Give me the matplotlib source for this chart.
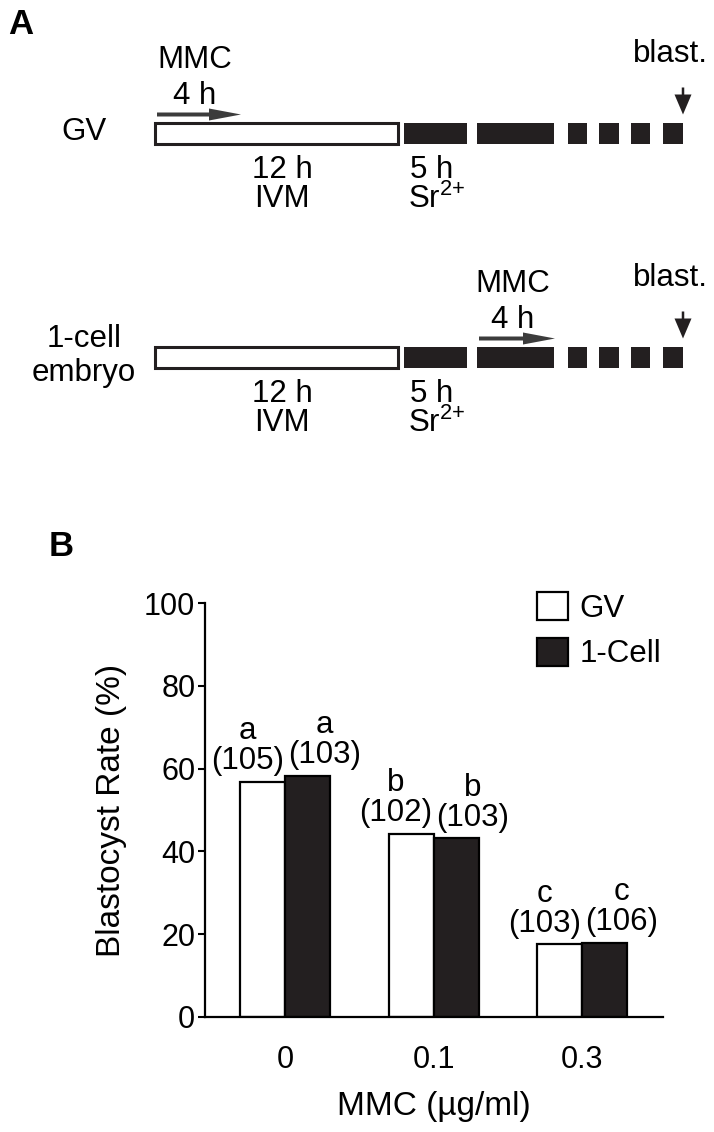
import numpy as np
import matplotlib.pyplot as plt
from matplotlib.patches import Rectangle, FancyArrow

plt.rcParams['font.family'] = ['Liberation Sans', 'DejaVu Sans']
plt.rcParams['mathtext.fontset'] = 'custom'
plt.rcParams['mathtext.rm'] = 'Liberation Sans'
plt.rcParams['mathtext.default'] = 'regular'

# ---- panel B data ----
doses = ['0', '0.1', '0.3']
gv_rate = [56.8, 44.2, 17.6]
cell_rate = [58.2, 43.2, 17.9]
gv_n = [105, 102, 103]
cell_n = [103, 103, 106]
gv_letters = ['a', 'b', 'c']
cell_letters = ['a', 'b', 'c']
yticks = [0, 20, 40, 60, 80, 100]

# ---- panel A schematic (pixel layout) ----
ivm_bar = (155, 398)
culture_blocks = [(404, 467), (477, 554), (568, 587), (599, 619), (631, 650), (663, 683)]
row_y = [133, 357]
row_names = ['GV', '1-cell\nembryo']
mmc_arrows = [(157, 241), (479, 555)]

BLACK = '#231f20'
ARROW = '#3c3c3c'
W, H = 714, 1132

fig = plt.figure(figsize=(W / 100, H / 100), dpi=100)

# schematic drawn in pixel coordinates over the whole figure
axa = fig.add_axes([0, 0, 1, 1])
axa.set_xlim(0, W)
axa.set_ylim(H, 0)
axa.axis('off')

fs_a = 22.5
bar_h = 21
for i, yc in enumerate(row_y):
    top = yc - bar_h / 2
    axa.add_patch(Rectangle((ivm_bar[0], top), ivm_bar[1] - ivm_bar[0], bar_h,
                            facecolor='white', edgecolor=BLACK, lw=2.2))
    for x0, x1 in culture_blocks:
        axa.add_patch(Rectangle((x0, top), x1 - x0, bar_h,
                                facecolor=BLACK, edgecolor='none'))
    # MMC arrow
    ax0, ax1 = mmc_arrows[i]
    ay = top - 8
    axa.add_patch(FancyArrow(ax0, ay, ax1 - ax0, 0, width=4, head_width=12,
                             head_length=32, length_includes_head=True,
                             color=ARROW, lw=0))
    axa.text((ax0 + ax1) / 2 - 4, ay - 18, '4 h', fontsize=fs_a, ha='center', va='center')
    axa.text((ax0 + ax1) / 2 - 4, ay - 55, 'MMC', fontsize=fs_a, ha='center', va='center')
    # blast arrow
    bx = culture_blocks[-1][1]
    axa.add_patch(FancyArrow(bx, top - 35, 0, 27, width=2.5, head_width=17,
                             head_length=20, length_includes_head=True,
                             color=BLACK, lw=0))
    axa.text(670, top - 68, 'blast.', fontsize=fs_a, ha='center', va='center')
    # labels
    axa.text(84, yc - 1, row_names[i], fontsize=fs_a, ha='center', va='center', linespacing=1.15)
    axa.text(282, yc + 37, '12 h', fontsize=fs_a, ha='center', va='center')
    axa.text(282, yc + 66, 'IVM', fontsize=fs_a, ha='center', va='center')
    axa.text(432, yc + 37, '5 h', fontsize=fs_a, ha='center', va='center')
    axa.text(408, yc + 66, r'Sr$^{2{+}}$', fontsize=fs_a, ha='left', va='center')

axa.text(21, 24, 'A', fontsize=25, fontweight='bold', ha='center', va='center')
axa.text(61, 546, 'B', fontsize=25, fontweight='bold', ha='center', va='center')

# ---- panel B ----
ax = fig.add_axes([205 / W, 1 - 1017 / H, (663 - 205) / W, (1017 - 603) / H])
x = np.arange(len(doses))
bw = 0.303
b1 = ax.bar(x - bw / 2, gv_rate, bw, facecolor='white', edgecolor='black', lw=1.6, label='GV')
b2 = ax.bar(x + bw / 2, cell_rate, bw, facecolor=BLACK, edgecolor='black', lw=1.6, label='1-Cell')

for i in range(len(doses)):
    ax.annotate(f'{gv_letters[i]}\n({gv_n[i]})', (x[i] - bw / 2, gv_rate[i]),
                xytext=(-11, 4), textcoords='offset points', ha='center', va='bottom',
                fontsize=22.5, linespacing=1.0, multialignment='center')
    ax.annotate(f'{cell_letters[i]}\n({cell_n[i]})', (x[i] + bw / 2, cell_rate[i]),
                xytext=(12, 4), textcoords='offset points', ha='center', va='bottom',
                fontsize=22.5, linespacing=1.0, multialignment='center')

ax.set_xlim(-0.539, 2.545)
ax.set_ylim(0, 100)
ax.set_yticks(yticks)
ax.set_xticks(x)
ax.set_xticklabels(doses)
ax.tick_params(axis='y', labelsize=22, length=5, width=1.5, pad=2)
ax.tick_params(axis='x', labelsize=22, length=0, pad=20)
for s in ['top', 'right']:
    ax.spines[s].set_visible(False)
for s in ['left', 'bottom']:
    ax.spines[s].set_linewidth(1.6)
ax.set_ylabel('Blastocyst Rate (%)', fontsize=24, labelpad=12)
ax.set_xlabel('MMC (µg/ml)', fontsize=24, labelpad=12)

ax.legend(handles=[b1, b2], loc='upper left', bbox_to_anchor=(537 / W, 1 - 592 / H),
          bbox_transform=fig.transFigure, frameon=False, fontsize=22.5, borderpad=0,
          borderaxespad=0, handlelength=1.0, handleheight=1.0, handletextpad=0.35,
          labelspacing=0.45)

fig.savefig('out.png', dpi=100)
